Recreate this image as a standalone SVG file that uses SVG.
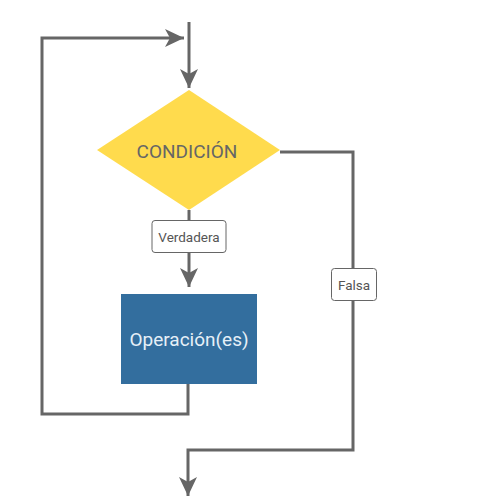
<svg xmlns="http://www.w3.org/2000/svg" width="500" height="500" viewBox="0 0 500 500">
<style>
.ln{fill:none;stroke:#666;stroke-width:3}
.lbl{fill:#fff;stroke:#666;stroke-width:1}
.t{font-family:Roboto,"Liberation Sans",sans-serif;text-anchor:middle;dominant-baseline:central}
.b{font-size:19px}
.s{font-size:13.5px;fill:#555}
</style>
<defs>
<marker id="ah" markerUnits="userSpaceOnUse" markerWidth="20" markerHeight="20" refX="19" refY="10" orient="auto">
<path d="M0,1 L19,10 L0,19 L5,10 Z" fill="#666"/>
</marker>
</defs>
<rect width="500" height="500" fill="#fff"/>
<g id="connectors">
<path class="ln" d="M189,22 V88" marker-end="url(#ah)"/>
<path class="ln" d="M188,384 V414 H42 V38 H184" marker-end="url(#ah)"/>
<path class="ln" d="M189,210 V287" marker-end="url(#ah)"/>
<path class="ln" d="M280,152 H353 V450 H188 V496" marker-end="url(#ah)"/>
</g>
<g id="condicion">
<polygon points="189,90 280,150 189,210 97,150" fill="#FFDB4D"/>
<text class="t b" x="187" y="151" fill="#666">CONDICIÓN</text>
</g>
<g id="verdadera">
<rect class="lbl" x="152" y="220.5" width="74" height="32" rx="3"/>
<text class="t s" x="189" y="237">Verdadera</text>
</g>
<g id="falsa">
<rect class="lbl" x="331.5" y="268.5" width="45" height="32" rx="3"/>
<text class="t s" x="354" y="285">Falsa</text>
</g>
<g id="operacion">
<rect x="121" y="294" width="136" height="90" fill="#336E9E"/>
<text class="t b" x="189" y="339" fill="#E6F0F8">Operación(es)</text>
</g>
</svg>
